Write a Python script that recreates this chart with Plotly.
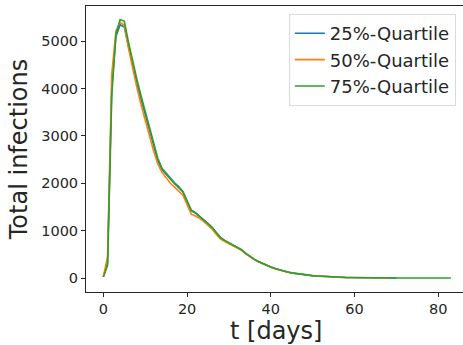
import plotly.graph_objects as go

days = list(range(0, 84))

q25 = [30, 320, 4000, 5100, 5350, 5300, 4900, 4480, 4130, 3780, 3440, 3150, 2780, 2480, 2290, 2190,
       2080, 1990, 1910, 1820, 1620, 1420, 1370, 1300, 1220, 1150, 1060, 950, 850, 790, 740, 690,
       640, 595, 520, 450,
       398, 348, 305, 266, 231, 199, 171, 147, 126, 108, 93, 80, 68, 58, 49, 42, 35, 30,
       25, 21, 18, 15, 12, 10, 8, 7, 6, 5, 4, 4, 3, 3, 2, 2, 2]

q50 = [30, 450, 4300, 5220, 5400, 5340, 4850, 4400, 4020, 3660, 3330, 3030, 2680, 2410, 2230, 2120,
       2000, 1920, 1840, 1750, 1550, 1350, 1310, 1260, 1190, 1120, 1030, 920, 820, 770, 720, 680,
       630, 585, 510, 445,
       392, 343, 301, 262, 228, 196, 169, 145, 124, 107, 92, 79, 67, 57, 48, 41, 35, 29,
       25, 21, 17, 14, 12, 10, 8, 7, 6, 5, 4, 3, 3, 2, 2]

q75 = [20, 260, 3850, 5150, 5460, 5420, 4980, 4560, 4200, 3850, 3530, 3210, 2840, 2530, 2320, 2210,
       2100, 2010, 1930, 1830, 1630, 1430, 1380, 1300, 1240, 1160, 1070, 955, 855, 795, 745, 695,
       645, 598, 522, 455,
       400, 350, 307, 268, 233, 200, 172, 148, 127, 109, 94, 81, 69, 59, 50, 42, 36, 30,
       25, 21, 18, 15, 12, 10, 8, 7, 6, 5, 4, 4, 3, 3, 2, 2, 2, 2, 1.5, 1.5, 1, 1, 1, 1, 1, 1, 1, 1, 0.5, 0.5]

series = [
    ("25%-Quartile", q25, "#1f77b4"),
    ("50%-Quartile", q50, "#ff7f0e"),
    ("75%-Quartile", q75, "#2ca02c"),
]

x_ticks = [0, 20, 40, 60, 80]
y_ticks = [0, 1000, 2000, 3000, 4000, 5000]
x_title = "t [days]"
y_title = "Total infections"

fig = go.Figure()
for name, vals, color in series:
    fig.add_trace(go.Scatter(x=days[:len(vals)], y=vals, mode="lines", name=name,
                             line=dict(color=color, width=1.6)))

axis_color = "#262626"
fig.update_layout(
    width=463, height=345,
    margin=dict(l=86, r=0, t=6, b=53),
    plot_bgcolor="white", paper_bgcolor="white",
    font=dict(family="DejaVu Sans", color="#262626", size=14.5),
    showlegend=True,
    legend=dict(
        x=0.981, y=0.972, xanchor="right", yanchor="top",
        bgcolor="rgba(255,255,255,0.8)", bordercolor="#d9d9d9", borderwidth=1,
        font=dict(size=18, family="DejaVu Sans"),
        tracegroupgap=0,
    ),
    annotations=[dict(
        text=x_title, xref="paper", yref="paper", x=0.504, y=-0.136,
        xanchor="center", yanchor="middle", showarrow=False,
        font=dict(size=24, family="DejaVu Sans", color="#262626"),
    )],
)
fig.update_xaxes(
    range=[-4.15, 85.9], tickvals=x_ticks, ticks="outside", ticklen=4, tickcolor=axis_color,
    showline=True, linecolor=axis_color, linewidth=1, mirror=True, showgrid=False, zeroline=False,
)
fig.update_yaxes(
    range=[-295, 5745], tickvals=y_ticks, ticks="outside", ticklen=4, tickcolor=axis_color,
    showline=True, linecolor=axis_color, linewidth=1, showgrid=False, zeroline=False,
    title=dict(text=y_title, font=dict(size=24), standoff=6),
)

fig.write_html("out.html")
